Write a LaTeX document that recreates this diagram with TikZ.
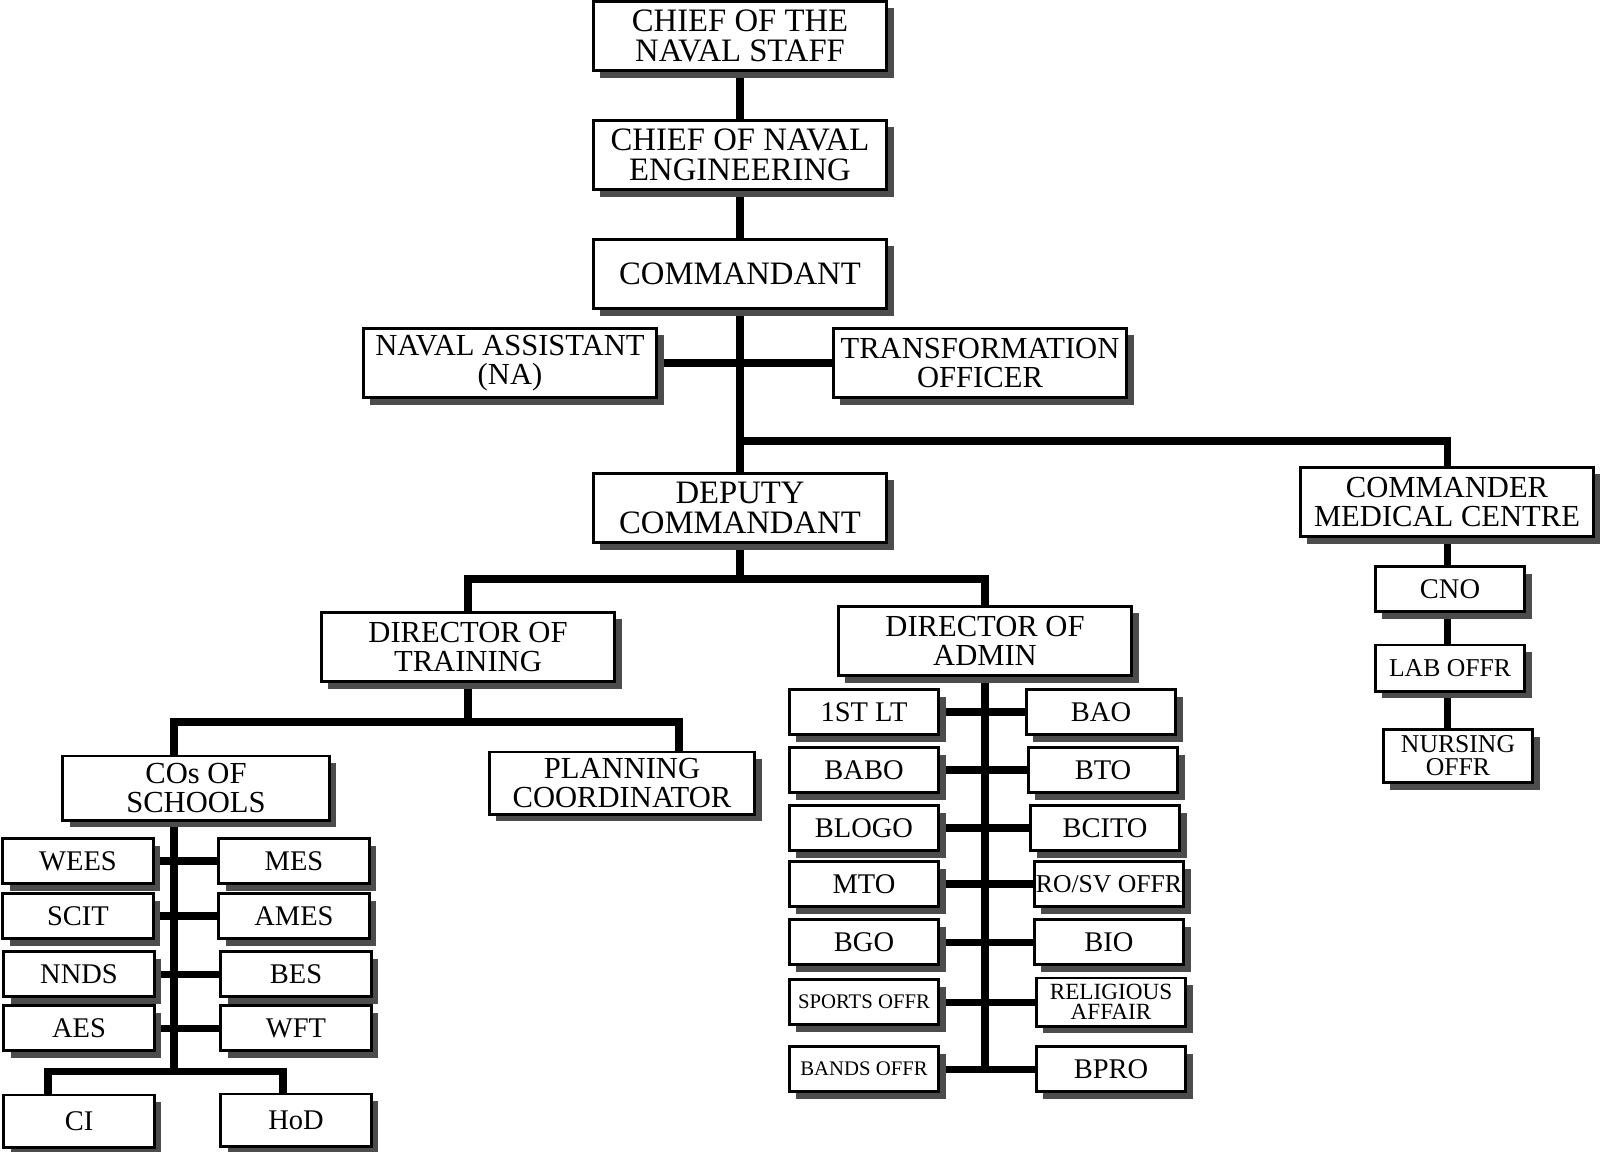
\documentclass[tikz,border=0pt]{standalone}
\usepackage{fontspec}
\setmainfont{Liberation Serif}
\usetikzlibrary{calc}
\usetikzlibrary{shadows}
\usetikzlibrary{backgrounds}
\newcommand{\fbig}{\fontsize{9.3}{8.5}\selectfont}
\newcommand{\fmid}{\fontsize{8.7}{8.1}\selectfont}
\newcommand{\fsml}{\fontsize{8.1}{7.5}\selectfont}
\newcommand{\ftny}{\fontsize{7.3}{6.6}\selectfont}
\newcommand{\fmin}{\fontsize{5.9}{5.5}\selectfont}
\tikzstyle{post}=[draw,line width=0.85pt,fill=white,inner sep=0pt,align=center,drop shadow={shadow xshift=0.07cm,shadow yshift=-0.07cm,fill=black!70,opacity=1}]
\tikzstyle{chief}=[post,minimum width=2.93cm,minimum height=0.69cm,font=\fbig]
\tikzstyle{head}=[post,minimum width=2.93cm,minimum height=0.69cm,font=\fmid]
\tikzstyle{unit}=[post,minimum width=1.49cm,minimum height=0.45cm,font=\fsml]
\tikzstyle{link}=[line width=2pt]

\begin{document}
\begin{tikzpicture}[x=0.01cm,y=-0.01cm]
	\useasboundingbox (0,0) rectangle (1600,1151);

	\node[chief] (csn) at (740,36) {CHIEF OF THE\\NAVAL STAFF};
	\node[chief] (cne) at (740,155) {CHIEF OF NAVAL\\ENGINEERING};
	\node[chief] (cmdt) at (740,274) {COMMANDANT};
	\node[head] (na) at (510,363) {NAVAL ASSISTANT\\(NA)};
	\node[head] (to) at (980,363) {TRANSFORMATION\\OFFICER};
	\node[chief] (dc) at (740,508) {DEPUTY\\COMMANDANT};
	\node[head] (cmc) at (1447,502) {COMMANDER\\MEDICAL CENTRE};
	\node[head] (dt) at (468,647) {DIRECTOR OF\\TRAINING};
	\node[head] (da) at (985,641) {DIRECTOR OF\\ADMIN};
	\node[head,minimum width=2.66cm,minimum height=0.64cm] (cos) at (196,788) {COs OF\\SCHOOLS};
	\node[head,minimum width=2.65cm,minimum height=0.62cm] (pc) at (622,783) {PLANNING\\COORDINATOR};

	% schools
	\node[unit,minimum width=1.5cm] (wees) at (78,861) {WEES};
	\node[unit,minimum width=1.5cm] (mes) at (294,861) {MES};
	\node[unit,minimum width=1.5cm] (scit) at (78,916) {SCIT};
	\node[unit,minimum width=1.5cm] (ames) at (294,916) {AMES};
	\node[unit,minimum width=1.5cm] (nnds) at (79,974) {NNDS};
	\node[unit,minimum width=1.5cm] (bes) at (296,974) {BES};
	\node[unit,minimum width=1.5cm] (aes) at (79,1028) {AES};
	\node[unit,minimum width=1.5cm] (wft) at (296,1028) {WFT};
	\node[unit,minimum width=1.5cm,minimum height=0.52cm] (ci) at (79,1121) {CI};
	\node[unit,minimum width=1.5cm,minimum height=0.52cm] (hod) at (296,1120) {HoD};

	% admin
	\node[unit] (lt) at (864,712) {1ST LT};
	\node[unit] (bao) at (1101,712) {BAO};
	\node[unit] (babo) at (864,770) {BABO};
	\node[unit] (bto) at (1103,770) {BTO};
	\node[unit] (blogo) at (864,828) {BLOGO};
	\node[unit] (bcito) at (1105,828) {BCITO};
	\node[unit] (mto) at (864,884) {MTO};
	\node[unit,font=\ftny] (rosv) at (1109,884) {RO/SV OFFR};
	\node[unit] (bgo) at (864,942) {BGO};
	\node[unit] (bio) at (1109,942) {BIO};
	\node[unit,font=\fmin] (sports) at (864,1002) {SPORTS OFFR};
	\node[unit,minimum height=0.48cm,font=\fontsize{6.6}{5.8}\selectfont] (relig) at (1111,1002) {RELIGIOUS\\AFFAIR};
	\node[unit,font=\fmin] (bands) at (864,1069) {BANDS OFFR};
	\node[unit] (bpro) at (1111,1069) {BPRO};

	% medical
	\node[unit] (cno) at (1450,589) {CNO};
	\node[unit,minimum height=0.46cm,font=\ftny] (lab) at (1450,668) {LAB OFFR};
	\node[unit,minimum height=0.53cm,font=\ftny] (nurse) at (1458,756) {NURSING\\OFFR};

	\coordinate (jmed) at (740,441);
	\coordinate (jdc) at (740,579);
	\coordinate (jdt) at (468,722);
	\coordinate (sch) at (174,1071);

	\begin{scope}[on background layer]
	\draw[link] (csn.south)--(cne.north);
	\draw[link] (cne.south)--(cmdt.north);
	\draw[link] (cmdt.south)--(dc.north);
	\draw[link] (na.east)--(to.west);
	\draw[link] (jmed)-|(cmc.north);
	\draw[link] (dc.south)--(jdc);
	\draw[link] (dt.north)|-(jdc)-|(da.north);
	\draw[link] (dt.south)--(jdt);
	\draw[link] (sch|-cos.north)|-(jdt)-|($(pc.north)+(57,0)$);

	\draw[link] (sch|-cos.south)--(sch);
	\draw[link] (wees.east)--(mes.west);
	\draw[link] (scit.east)--(ames.west);
	\draw[link] (nnds.east)--(bes.west);
	\draw[link] (aes.east)--(wft.west);
	\draw[link] ($(ci.north)+(-31,0)$)|-(sch)-|($(hod.north)+(-13,0)$);

	\draw[link] (da.south)--(da.south|-bands.east);
	\draw[link] (lt.east)--(bao.west);
	\draw[link] (babo.east)--(bto.west);
	\draw[link] (blogo.east)--(bcito.west);
	\draw[link] (mto.east)--(rosv.west);
	\draw[link] (bgo.east)--(bio.west);
	\draw[link] (sports.east)--(relig.west);
	\draw[link] (bands.east)--(bpro.west);

	\draw[link] (cmc.south)--(cmc.south|-cno.north);
	\draw[link] (cmc.south|-cno.south)--(cmc.south|-lab.north);
	\draw[link] (cmc.south|-lab.south)--(cmc.south|-nurse.north);
	\end{scope}
\end{tikzpicture}
\end{document}
